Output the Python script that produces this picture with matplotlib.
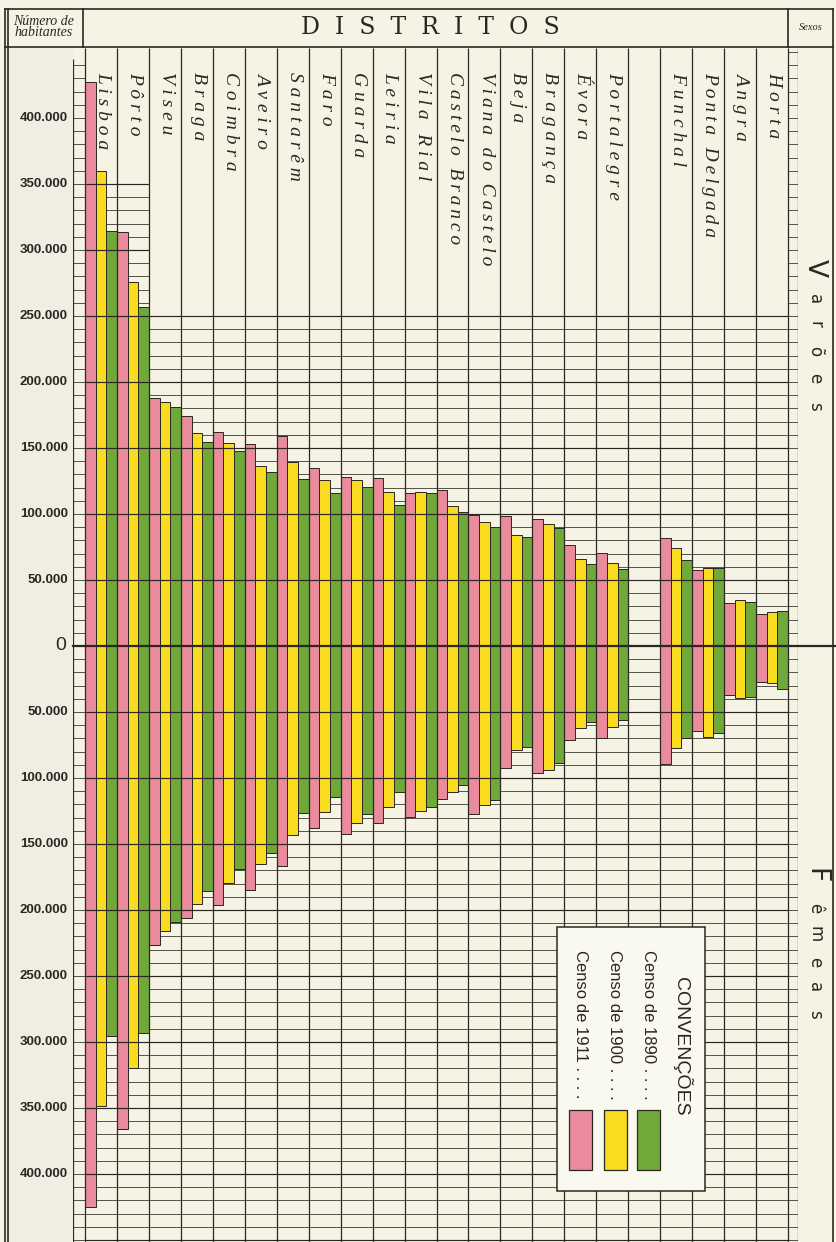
import matplotlib.pyplot as plt
import numpy as np
from matplotlib.lines import Line2D
from matplotlib.patches import Rectangle

# === DADOS (milhares de habitantes) ===
distritos = ['Lisboa', 'Pôrto', 'Viseu', 'Braga', 'Coimbra', 'Aveiro', 'Santarêm',
             'Faro', 'Guarda', 'Leiria', 'Vila Rial', 'Castelo Branco',
             'Viana do Castelo', 'Beja', 'Bragança', 'Évora', 'Portalegre',
             'Funchal', 'Ponta Delgada', 'Angra', 'Horta']
ilhas = ['Funchal', 'Ponta Delgada', 'Angra', 'Horta']

varoes_1911 = [427, 314, 188, 174.5, 162.4, 152.8, 159, 135, 128.3, 127.5, 115.7,
               118.2, 99.2, 98.5, 96, 76.5, 70.7, 81.5, 57.6, 32.3, 24]
varoes_1900 = [360, 276, 184.6, 161, 153.5, 136.6, 139.6, 125.8, 125.8, 116.7, 116.9,
               106.3, 94.2, 84.1, 92.4, 65.7, 63.1, 74, 59.3, 34.8, 25.5]
varoes_1890 = [314.6, 257, 181, 154.8, 148, 132, 126.3, 115.7, 120.2, 107, 115.7,
               101.3, 90.4, 82.3, 89.1, 61.9, 58.1, 65.2, 58.8, 33, 26.8]

femeas_1911 = [424.7, 365.9, 226.5, 206.3, 196.2, 184.8, 166.7, 138.1, 142.7, 134.3, 129.3,
               116.2, 127.3, 92.7, 96.5, 71.2, 69.9, 89.4, 64.1, 37.1, 27]
femeas_1900 = [348.2, 319.4, 216, 195.5, 179.8, 165.4, 143.2, 125.5, 134.3, 121.7, 124.7,
               110.4, 120.5, 78.8, 93.9, 62.4, 61.1, 77.5, 68.7, 39.6, 28.3]
femeas_1890 = [295.5, 292.9, 208.8, 185.4, 168.9, 157, 126.8, 114.1, 127.5, 110.4, 121.7,
               105.3, 116.7, 76.3, 88.9, 57.3, 56.1, 69.9, 65.7, 38.4, 32.8]

ticks_varoes = [400, 350, 300, 250, 200, 150, 100, 50]
ticks_femeas = [50, 100, 150, 200, 250, 300, 350, 400]
censos = ['Censo de 1890', 'Censo de 1900', 'Censo de 1911']

# === ESTILO ===
W, H = 836, 1242
PAPEL = '#f5f3e3'
ROSA = '#ea8b9d'
AMARELO = '#f9db1f'
VERDE = '#6ea93a'
TINTA = '#2b2622'

# geometria em pixels
x_regua, x0, x1, x_regua_d = 73, 85, 788, 798
y_topo, y_zero, y_base = 48, 646, 1242
px_mil = 1.32
ncol = 22
col = (x1 - x0) / ncol


def fx(x):
    return x / W


def fy(y):
    return 1 - y / H


def val(y):
    # pixel vertical -> valor no eixo
    return (y_zero - y) / px_mil


fig = plt.figure(figsize=(W / 100, H / 100), dpi=100, facecolor=PAPEL)

# coluna da esquerda (números)
fig.add_artist(Rectangle((fx(7), 0), fx(x_regua) - fx(7), fy(y_topo),
                         transform=fig.transFigure, facecolor='#f0eee2', edgecolor='none', zorder=0))

ax = fig.add_axes([fx(x_regua), 0, (x_regua_d - x_regua) / W, (y_base - y_topo) / H])
ax.set_facecolor(PAPEL)
xl = -(x0 - x_regua) / col
xr = ncol + (x_regua_d - x1) / col
ax.set_xlim(xl, xr)
ax.set_ylim(val(y_base), val(y_topo))
ax.axis('off')

# posição das colunas (uma coluna vazia antes das ilhas)
pos = np.array([i + (1 if d in ilhas else 0) for i, d in enumerate(distritos)], dtype=float)

# grelha fina (atrás das barras)
ax.hlines(np.arange(10, 251, 10), 0, ncol, colors=TINTA, lw=0.55, zorder=1)
ax.hlines(np.arange(260, 351, 10), 0, 2, colors=TINTA, lw=0.55, zorder=1)
ax.hlines(-np.arange(10, 451, 10), 0, ncol, colors=TINTA, lw=0.55, zorder=1)

# barras
series = [(varoes_1911, femeas_1911, ROSA), (varoes_1900, femeas_1900, AMARELO),
          (varoes_1890, femeas_1890, VERDE)]
for k, (v, f, cor) in enumerate(series):
    xs = pos + (k + 0.5) / 3
    ax.bar(xs, v, width=1 / 3, color=cor, edgecolor=TINTA, lw=0.7, zorder=2)
    ax.bar(xs, -np.array(f), width=1 / 3, color=cor, edgecolor=TINTA, lw=0.7, zorder=2)

# grelha grossa (por cima das barras)
ax.hlines(np.arange(50, 251, 50), 0, ncol, colors=TINTA, lw=0.85, zorder=3)
ax.hlines([300, 350], 0, 2, colors=TINTA, lw=0.85, zorder=3)
ax.hlines(-np.arange(50, 451, 50), 0, ncol, colors=TINTA, lw=0.85, zorder=3)
ax.vlines(np.arange(0, ncol + 1), val(y_base), val(y_topo), colors=TINTA, lw=0.9, zorder=3)

# réguas laterais
ax.hlines(np.arange(-450, 441, 10), xl, 0, colors=TINTA, lw=0.55, zorder=3)
ax.vlines(xl, val(y_base), 445, colors=TINTA, lw=0.9, zorder=3)
ax.hlines(np.arange(-450, 451, 10), ncol, xr, colors=TINTA, lw=0.55, zorder=3)
ax.vlines(xr, val(y_base), val(y_topo), colors=TINTA, lw=0.9, zorder=3)

# linha do zero
fig.add_artist(Line2D([fx(x_regua), fx(836)], [fy(y_zero), fy(y_zero)], color=TINTA, lw=1.6, zorder=4))

# moldura e cabeçalho
for xs_, ys_ in [([5, 5], [9, H]), ([8, 8], [9, H]), ([5, 833], [9, 9]), ([5, 833], [47, 47]),
                 ([83, 83], [9, 47]), ([788, 788], [9, 47]), ([833, 833], [9, H])]:
    fig.add_artist(Line2D([fx(x) for x in xs_], [fy(y) for y in ys_], color=TINTA, lw=1.2))

fig.text(fx(44), fy(27), 'Número de\nhabitantes', ha='center', va='center', fontsize=10,
         style='italic', family='Liberation Serif', linespacing=0.8, color=TINTA)
fig.text(fx(430), fy(27), 'D  I  S  T  R  I  T  O  S', ha='center', va='center', fontsize=17,
         family='DejaVu Serif', color=TINTA)
fig.text(fx(811), fy(27), 'Sexos', ha='center', va='center', fontsize=7.5,
         style='italic', family='Liberation Serif', color=TINTA)

# nomes dos distritos
for p, nome in zip(pos, distritos):
    sep = '\u2009' if len(nome) > 12 else ' '
    ax.text(p + 0.55, val(72), sep.join(nome), rotation=-90, rotation_mode='anchor',
            ha='left', va='center', fontsize=14, style='italic',
            family=['Liberation Serif', 'DejaVu Serif'], color=TINTA, zorder=4)

# escala vertical
for v in ticks_varoes:
    fig.text(fx(68), fy(y_zero - v * px_mil), f'{v}.000', ha='right', va='center',
             fontsize=9.5, fontweight='bold', family='Liberation Sans', color=TINTA)
for v in ticks_femeas:
    fig.text(fx(68), fy(y_zero + v * px_mil), f'{v}.000', ha='right', va='center',
             fontsize=9.5, fontweight='bold', family='Liberation Sans', color=TINTA)
fig.text(fx(66), fy(y_zero), '0', ha='right', va='center', fontsize=14,
         family='Liberation Sans', color=TINTA)

# sexos
for letra, y, tam in zip('Varões', [268, 299, 324, 351, 378, 406], [19, 12, 12, 12, 12, 12]):
    fig.text(fx(815), fy(y), letra, rotation=-90, ha='center', va='center', fontsize=tam,
             family='DejaVu Sans', color=TINTA)
for letra, y, tam in zip('Fêmeas', [876, 908, 934, 962, 987, 1014], [19, 12, 12, 12, 12, 12]):
    fig.text(fx(815), fy(y), letra, rotation=-90, ha='center', va='center', fontsize=tam,
             family='DejaVu Sans', color=TINTA)

# convenções
fig.add_artist(Rectangle((fx(557), fy(1191)), fx(705) - fx(557), fy(927) - fy(1191),
                         transform=fig.transFigure, facecolor='#faf9f0', edgecolor=TINTA, lw=1.1, zorder=5))
fig.text(fx(682), fy(977), 'CONVENÇÕES', rotation=-90, rotation_mode='anchor', ha='left',
         va='center', fontsize=14, family='Liberation Sans', color=TINTA, zorder=6)
for nome, x, cor in zip(censos, [648, 615, 580], [VERDE, AMARELO, ROSA]):
    fig.text(fx(x), fy(950), nome + ' . . . .', rotation=-90, rotation_mode='anchor', ha='left',
             va='center', fontsize=12, family='Liberation Sans', color=TINTA, zorder=6)
    fig.add_artist(Rectangle((fx(x - 11), fy(1170)), 23 / W, 60 / H, transform=fig.transFigure,
                             facecolor=cor, edgecolor=TINTA, lw=0.9, zorder=6))

plt.savefig('out.png', dpi=100, facecolor=PAPEL)
